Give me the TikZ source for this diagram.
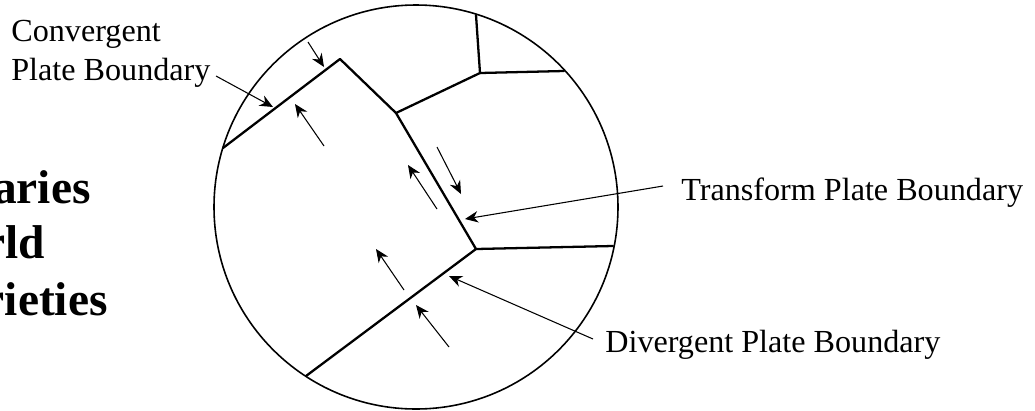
\documentclass[tikz,border=0pt]{standalone}
\usepackage{fontspec}
\setmainfont{Liberation Serif}
\usetikzlibrary{arrows.meta}
\tikzset{
  platebdy/.style={line width=1.3pt, line cap=round, line join=round},
  pointer/.style={line width=0.6pt, -{Stealth[length=7.5pt, width=6.5pt, inset=2.4pt]}},
  lbl/.style={anchor=base west, inner sep=0pt, font=\fontsize{18.3}{21}\selectfont},
  headline/.style={anchor=base east, inner sep=0pt, font=\fontsize{27}{31}\selectfont\bfseries}
}
\begin{document}
\begin{tikzpicture}[x=0.02cm, y=-0.02cm]
  % picture runs in pixels of the reference, y downwards
  \useasboundingbox (0,0) rectangle (1035,410);

  % Title remainder
  \node[headline] (titlea) at (91,203) {aries};
  \node[headline] (titleb) at (45,258) {rld};
  \node[headline] (titlec) at (108,315) {rieties};

  % Globe
  \node[circle, draw, line width=0.9pt, minimum size=404*0.02cm, inner sep=0pt] (globe) at (416,207) {};

  % Plate corners
  \coordinate (rimw) at (223,148);
  \coordinate (apex) at (340,59);
  \coordinate (kink) at (396,113);
  \coordinate (triple) at (476,249);
  \coordinate (rims) at (306,376);
  \coordinate (north) at (480,73);
  \coordinate (rimn) at (476,15);
  \coordinate (rimne) at (564,71);
  \coordinate (rime) at (613,246);

  % Boundaries
  \draw[platebdy] (rimw) -- (apex) -- (kink) -- (triple) -- (rims);
  \draw[platebdy] (kink) -- (north) -- (rimn);
  \draw[platebdy] (north) -- (rimne);
  \draw[platebdy] (triple) -- (rime);

  % Motion arrows
  \foreach \xa/\ya/\xb/\yb in {
    308/42/324/67,
    324/146/295/104,
    437/147/461/194,
    437/209/408/165,
    404/290/376/249,
    449/347/416/305
  }{
    \draw[pointer] (\xa,\ya) -- (\xb,\yb);
  }

  % Labels
  \node[lbl] (lblconvtop) at (11,41) {Convergent};
  \node[lbl] (lblconv) at (11,80) {Plate Boundary};
  \node[lbl] (lbltrans) at (681,200) {Transform Plate Boundary};
  \node[lbl] (lbldiv) at (605,352) {Divergent Plate Boundary};

  \coordinate (tailconv) at (216,76);
  \coordinate (tipconv) at (273,107);
  \coordinate (tailtrans) at (663,186);
  \coordinate (tiptrans) at (465,219);
  \coordinate (taildiv) at (593,339);
  \coordinate (tipdiv) at (449,276);
  \draw[pointer] (tailconv) -- (tipconv);
  \draw[pointer] (tailtrans) -- (tiptrans);
  \draw[pointer] (taildiv) -- (tipdiv);
\end{tikzpicture}
\end{document}
